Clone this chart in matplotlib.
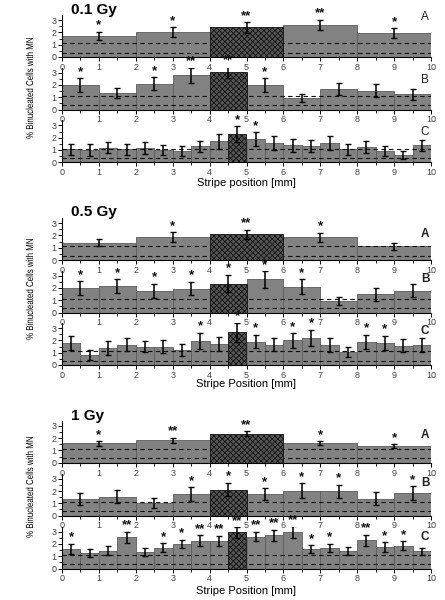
import numpy as np
import matplotlib
matplotlib.use("Agg")
import matplotlib.pyplot as plt
from matplotlib.patheffects import AbstractPathEffect
from matplotlib.transforms import Affine2D

plt.rcParams['hatch.linewidth'] = 0.6
plt.rcParams['font.family'] = ['Liberation Sans', 'DejaVu Sans']

# ---------------- data ----------------
dose_labels = ["0.1 Gy", "0.5 Gy", "1 Gy"]
xlabels = ["Stripe position [mm]", "Stripe Position [mm]", "Stripe Position [mm]"]
ylabel = "% Binucleated Cells with MN"
panel_letters = ["A", "B", "C"]
x_ticks = [0, 1, 2, 3, 4, 5, 6, 7, 8, 9, 10]
y_ticks = [0, 1, 2, 3]
control_levels = [1.1, 0.35]

# bin widths (mm) for panels A, B, C
bin_widths = [2.0, 1.0, 0.5]
hatched_index = [2, 4, 9]

# 0.1 Gy
a01_val = [1.70, 2.00, 2.40, 2.60, 1.95]
a01_err = [0.35, 0.40, 0.42, 0.42, 0.38]
a01_sig = ["*", "*", "**", "**", "*"]
b01_val = [2.00, 1.35, 2.10, 2.80, 3.05, 2.00, 0.95, 1.65, 1.55, 1.25]
b01_err = [0.55, 0.43, 0.53, 0.60, 0.50, 0.57, 0.35, 0.50, 0.52, 0.43]
b01_sig = ["*", "", "*", "**", "**", "*", "", "", "", ""]
c01_val = [1.05, 1.00, 1.20, 1.05, 1.15, 1.00, 0.92, 1.32, 1.72, 2.30,
           1.90, 1.57, 1.38, 1.32, 1.57, 1.05, 1.25, 0.90, 0.57, 1.38]
c01_err = [0.47, 0.45, 0.48, 0.47, 0.47, 0.40, 0.43, 0.45, 0.62, 0.63,
           0.55, 0.56, 0.55, 0.50, 0.55, 0.45, 0.48, 0.40, 0.32, 0.47]
c01_sig = ["", "", "", "", "", "", "", "", "", "*",
           "*", "", "", "", "", "", "", "", "", ""]

# 0.5 Gy
a05_val = [1.40, 1.85, 2.10, 1.85, 1.12]
a05_err = [0.28, 0.40, 0.37, 0.38, 0.28]
a05_sig = ["", "*", "**", "*", ""]
b05_val = [2.00, 2.15, 1.75, 1.95, 2.35, 2.70, 2.10, 0.95, 1.50, 1.75]
b05_err = [0.55, 0.57, 0.60, 0.55, 0.72, 0.68, 0.60, 0.35, 0.53, 0.53]
b05_sig = ["*", "*", "*", "*", "*", "*", "*", "", "", ""]
c05_val = [1.80, 0.82, 1.40, 1.65, 1.50, 1.48, 1.23, 1.97, 1.72, 2.65,
           1.90, 1.65, 2.00, 2.20, 1.63, 1.03, 1.90, 1.80, 1.58, 1.62]
c05_err = [0.55, 0.40, 0.55, 0.53, 0.48, 0.53, 0.47, 0.65, 0.57, 0.80,
           0.55, 0.52, 0.60, 0.68, 0.56, 0.40, 0.57, 0.58, 0.50, 0.55]
c05_sig = ["", "", "", "", "", "", "", "*", "", "*",
           "*", "", "*", "*", "", "", "*", "*", "", ""]

# 1 Gy
a1_val = [1.57, 1.83, 2.37, 1.58, 1.34]
a1_err = [0.18, 0.19, 0.19, 0.17, 0.17]
a1_sig = ["*", "**", "**", "*", "*"]
b1_val = [1.37, 1.55, 1.05, 1.75, 2.12, 1.75, 2.02, 1.97, 1.37, 1.82]
b1_err = [0.47, 0.50, 0.40, 0.55, 0.55, 0.50, 0.60, 0.55, 0.52, 0.55]
b1_sig = ["", "", "", "*", "*", "*", "*", "*", "", "*"]
c1_val = [1.60, 1.26, 1.45, 2.55, 1.35, 1.70, 2.00, 2.26, 2.26, 2.95,
          2.60, 2.70, 2.95, 1.57, 1.70, 1.45, 2.30, 1.75, 1.85, 1.40]
c1_err = [0.42, 0.32, 0.37, 0.45, 0.32, 0.35, 0.35, 0.43, 0.40, 0.43,
          0.40, 0.47, 0.48, 0.30, 0.33, 0.33, 0.45, 0.38, 0.35, 0.30]
c1_sig = ["*", "", "", "**", "", "*", "*", "**", "**", "**",
          "**", "**", "**", "*", "*", "", "**", "*", "*", ""]

panels = [
    (a01_val, a01_err, a01_sig), (b01_val, b01_err, b01_sig), (c01_val, c01_err, c01_sig),
    (a05_val, a05_err, a05_sig), (b05_val, b05_err, b05_sig), (c05_val, c05_err, c05_sig),
    (a1_val, a1_err, a1_sig), (b1_val, b1_err, b1_sig), (c1_val, c1_err, c1_sig),
]

# ---------------- layout (pixels of a 445x600 canvas) ----------------
W, H = 445.0, 600.0
x_left, x_right = 62.0, 431.0
zero_px = [57.0, 109.6, 162.3, 260.0, 312.5, 365.0, 462.7, 515.6, 568.5]
unit_px = 12.3
ytop = 3.4
letter_y = [3.25, 2.4, 2.46, 2.13, 2.7, 2.8, 2.25, 2.65, 2.55]
title_y_px = [10.0, 212.0, 416.0]
xlabel_y_px = [183.0, 384.0, 591.0]
ylabel_bottom_px = [139.0, 340.0, 538.0]
ylabel_len_px = 102.0

bar_color = "#828282"
edge_color = "#5c5c5c"
hatch_face = "#555555"


class Squeeze(AbstractPathEffect):
    """Condense glyphs along the text direction (narrow typeface look)."""
    def __init__(self, sx):
        super().__init__()
        self.sx = sx

    def draw_path(self, renderer, gc, tpath, affine, rgbFace=None):
        renderer.draw_path(gc, tpath, Affine2D().scale(self.sx, 1.0) + affine, rgbFace)


fig = plt.figure(figsize=(W / 100, H / 100), dpi=100)

for i, (vals, errs, sigs) in enumerate(panels):
    g, p = divmod(i, 3)
    width = bin_widths[p]
    y0 = zero_px[i]
    ax = fig.add_axes([x_left / W, 1 - y0 / H, (x_right - x_left) / W, ytop * unit_px / H])
    lefts = np.arange(len(vals)) * width
    centers = lefts + width / 2
    vals = np.asarray(vals)
    errs = np.asarray(errs)
    hi = hatched_index[p]
    normal = [k for k in range(len(vals)) if k != hi]
    ax.bar(lefts[normal], vals[normal], width=width, align="edge",
           color=bar_color, edgecolor=edge_color, linewidth=0.6, zorder=1)
    for lvl in control_levels:
        ax.axhline(lvl, color="#111111", lw=0.8, ls=(0, (4, 3)), zorder=2)
    ax.bar([lefts[hi]], [vals[hi]], width=width, align="edge",
           color=hatch_face, edgecolor="#151515", hatch="xxxxxx", linewidth=0.6, zorder=3)
    ax.errorbar(centers, vals, yerr=errs, fmt="none", ecolor="black",
                elinewidth=1.1, capsize=2.5, capthick=1.0, zorder=4)
    for c, v, e, s in zip(centers, vals, errs, sigs):
        if s:
            ax.text(c, v + e + 0.02, s, ha="center", va="bottom",
                    fontsize=9.5, fontweight="bold", color="#111111", zorder=5)
    ax.set_xlim(0, 10)
    ax.set_ylim(0, ytop)
    ax.patch.set_alpha(0)
    for sp in ["top", "right"]:
        ax.spines[sp].set_visible(False)
    ax.spines["left"].set_linewidth(0.8)
    ax.spines["bottom"].set_linewidth(0.8)
    ax.set_xticks(x_ticks)
    ax.set_xticks(np.arange(0.5, 10, 1.0), minor=True)
    ax.set_yticks(y_ticks)
    ax.set_yticks(np.arange(0.5, 3.4, 1.0), minor=True)
    ax.tick_params(axis="both", which="major", length=3, width=0.7, direction="out",
                   labelsize=6.5, labelcolor="#444444", pad=1.2)
    ax.tick_params(axis="both", which="minor", length=2, width=0.6, direction="out")
    ax.text(9.84, letter_y[i], panel_letters[p], ha="center", va="center",
            fontsize=8.5, fontweight=("normal" if g == 0 else "bold"), color="#222222")

ylabel_texts = []
for g in range(3):
    fig.text(71 / W, 1 - title_y_px[g] / H, dose_labels[g], ha="left", va="center",
             fontsize=11, fontweight="bold")
    fig.text(246 / W, 1 - xlabel_y_px[g] / H, xlabels[g], ha="center", va="center",
             fontsize=8)
    t = fig.text(30 / W, 1 - ylabel_bottom_px[g] / H, ylabel, ha="left", va="center",
                 rotation=90, rotation_mode="anchor", fontsize=7.2)
    ylabel_texts.append(t)

# condense the y labels to the narrow look of the original
fig.canvas.draw()
renderer = fig.canvas.get_renderer()
for t in ylabel_texts:
    full_len = t.get_window_extent(renderer).height
    t.set_path_effects([Squeeze(ylabel_len_px / full_len)])

fig.savefig("out.png", dpi=100)
